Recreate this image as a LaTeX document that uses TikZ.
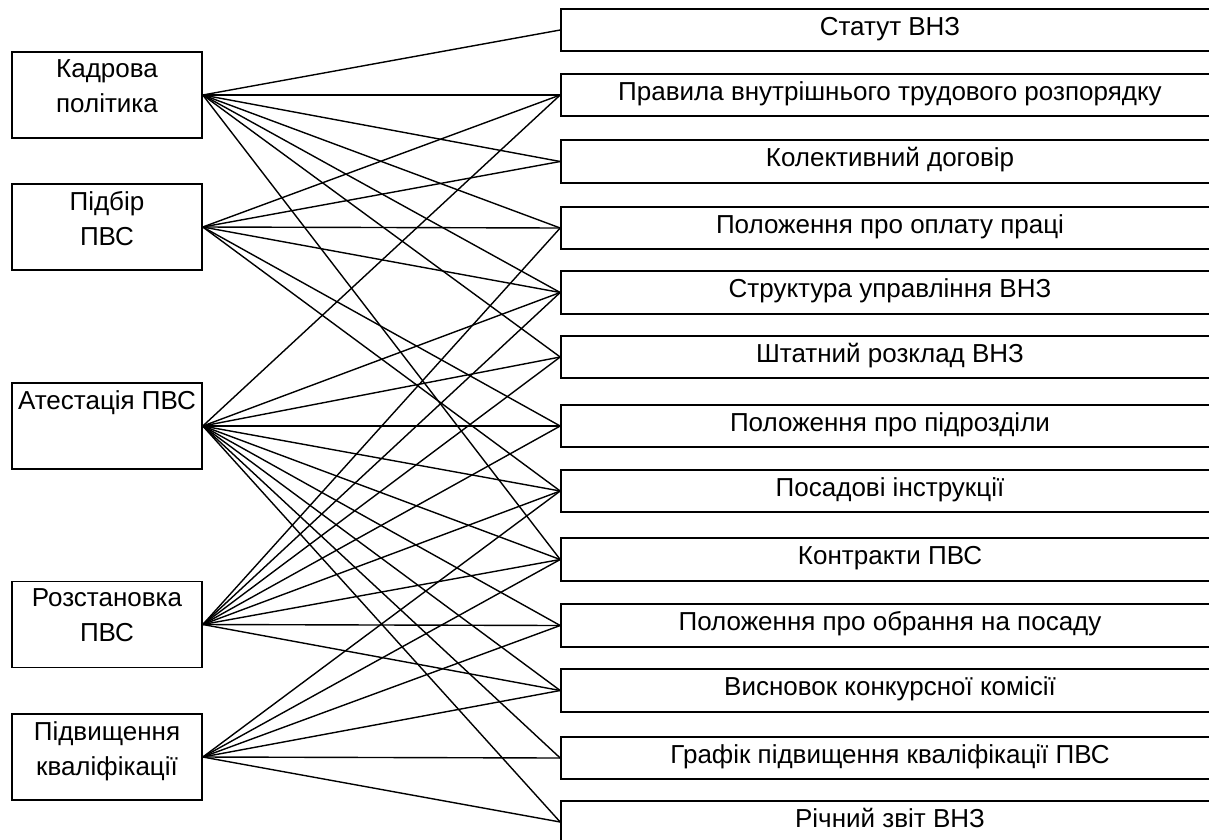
\documentclass[tikz,border=0pt]{standalone}
\usepackage{fontspec}
\setmainfont{Liberation Sans}
\usetikzlibrary{positioning}
\definecolor{Ink}{HTML}{000000}

\begin{document}
\begin{tikzpicture}[x=1pt,y=-1pt,
  lbox/.style={draw=Ink,line width=1.6pt,minimum width=190pt,minimum height=86pt,inner sep=0pt},
  ltext/.style={inner sep=0pt,align=center,font=\fontsize{26}{35}\selectfont,text=Ink},
  rbox/.style={draw=Ink,line width=1.6pt,minimum width=658pt,minimum height=42.5pt,inner sep=0pt,
    text height=18pt,text depth=8pt,font=\fontsize{26}{35}\selectfont,text=Ink},
  link/.style={draw=Ink,line width=1.4pt}]
\useasboundingbox (0,0) rectangle (1209,839);
\node[lbox] (kadr) at (107,95) {};
\node[ltext,below=8pt of kadr.north] (kadrt) {Кадрова\\політика};
\node[lbox] (pidbir) at (107,227) {};
\node[ltext,below=8pt of pidbir.north] (pidbirt) {Підбір\\ПВС};
\node[lbox] (atest) at (107,426) {};
\node[ltext,below=8pt of atest.north] (atestt) {Атестація ПВС};
\node[lbox] (rozst) at (107,624.5) {};
\node[ltext,below=8pt of rozst.north] (rozstt) {Розстановка\\ПВС};
\node[lbox] (pidv) at (107,757) {};
\node[ltext,below=8pt of pidv.north] (pidvt) {Підвищення\\кваліфікації};
\node[rbox] (statut) at (890,30) {Статут ВНЗ};
\node[rbox] (pravyla) at (890,95) {Правила внутрішнього трудового розпорядку};
\node[rbox] (kolektyv) at (890,161.5) {Колективний договір};
\node[rbox] (oplata) at (890,228) {Положення про оплату праці};
\node[rbox] (struktura) at (890,292.5) {Структура управління ВНЗ};
\node[rbox] (shtat) at (890,357) {Штатний розклад ВНЗ};
\node[rbox] (pidrozdil) at (890,426) {Положення про підрозділи};
\node[rbox] (instr) at (890,491) {Посадові інструкції};
\node[rbox] (kontrakt) at (890,559.5) {Контракти ПВС};
\node[rbox] (obrannia) at (890,625.5) {Положення про обрання на посаду};
\node[rbox] (vysnovok) at (890,690.5) {Висновок конкурсної комісії};
\node[rbox] (grafik) at (890,758) {Графік підвищення кваліфікації ПВС};
\node[rbox] (zvit) at (890,822) {Річний звіт ВНЗ};
\draw[link] (kadr.east) -- (statut.west);
\draw[link] (kadr.east) -- (pravyla.west);
\draw[link] (kadr.east) -- (kolektyv.west);
\draw[link] (kadr.east) -- (oplata.west);
\draw[link] (kadr.east) -- (struktura.west);
\draw[link] (kadr.east) -- (shtat.west);
\draw[link] (kadr.east) -- (kontrakt.west);
\draw[link] (pidbir.east) -- (pravyla.west);
\draw[link] (pidbir.east) -- (kolektyv.west);
\draw[link] (pidbir.east) -- (oplata.west);
\draw[link] (pidbir.east) -- (struktura.west);
\draw[link] (pidbir.east) -- (pidrozdil.west);
\draw[link] (pidbir.east) -- (instr.west);
\draw[link] (atest.east) -- (pravyla.west);
\draw[link] (atest.east) -- (struktura.west);
\draw[link] (atest.east) -- (shtat.west);
\draw[link] (atest.east) -- (pidrozdil.west);
\draw[link] (atest.east) -- (instr.west);
\draw[link] (atest.east) -- (kontrakt.west);
\draw[link] (atest.east) -- (obrannia.west);
\draw[link] (atest.east) -- (vysnovok.west);
\draw[link] (atest.east) -- (grafik.west);
\draw[link] (atest.east) -- (zvit.west);
\draw[link] (rozst.east) -- (oplata.west);
\draw[link] (rozst.east) -- (struktura.west);
\draw[link] (rozst.east) -- (shtat.west);
\draw[link] (rozst.east) -- (pidrozdil.west);
\draw[link] (rozst.east) -- (instr.west);
\draw[link] (rozst.east) -- (kontrakt.west);
\draw[link] (rozst.east) -- (obrannia.west);
\draw[link] (rozst.east) -- (vysnovok.west);
\draw[link] (pidv.east) -- (instr.west);
\draw[link] (pidv.east) -- (kontrakt.west);
\draw[link] (pidv.east) -- (obrannia.west);
\draw[link] (pidv.east) -- (vysnovok.west);
\draw[link] (pidv.east) -- (grafik.west);
\draw[link] (pidv.east) -- (zvit.west);
\end{tikzpicture}
\end{document}
